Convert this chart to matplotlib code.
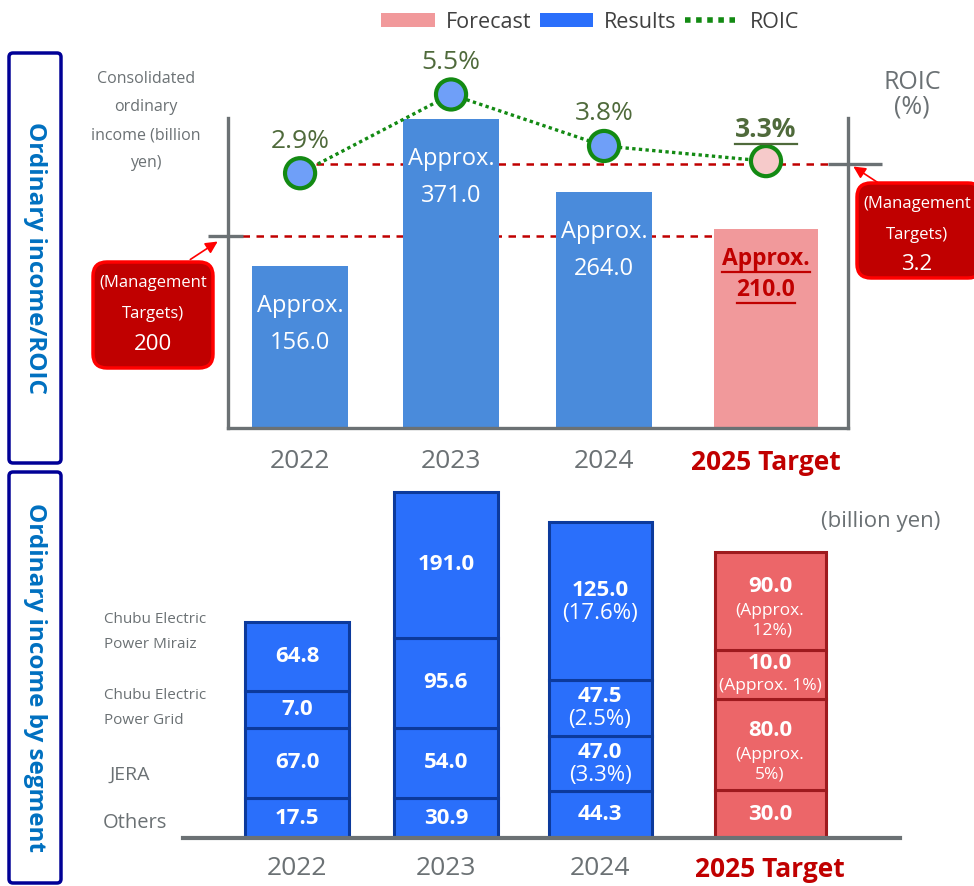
import matplotlib

matplotlib.use("Agg")
import matplotlib.pyplot as plt
import numpy as np
from matplotlib.lines import Line2D
from matplotlib.patches import FancyBboxPatch, Patch
from matplotlib.transforms import blended_transform_factory

plt.rcParams["font.family"] = ["Open Sans", "DejaVu Sans"]

# ---- data -------------------------------------------------------------
years = ["2022", "2023", "2024", "2025 Target"]
income = [156.0, 371.0, 264.0, 210.0]          # consolidated ordinary income (billion yen)
roic = [2.9, 5.5, 3.8, 3.3]                    # ROIC (%)
income_target = 200
roic_target = 3.2

seg_others = [17.5, 30.9, 44.3, 30.0]
seg_jera = [67.0, 54.0, 47.0, 80.0]
seg_grid = [7.0, 95.6, 47.5, 10.0]
seg_miraiz = [64.8, 191.0, 125.0, 90.0]
share_others = [None, None, None, None]
share_jera = [None, None, "(3.3%)", "(Approx.\n5%)"]
share_grid = [None, None, "(2.5%)", "(Approx. 1%)"]
share_miraiz = [None, None, "(17.6%)", "(Approx.\n 12%)"]

# the segment boxes in the original slide are schematic (not to scale):
# drawn box heights, in pixels, kept apart from the values
box_others = [40, 40, 47, 48]
box_jera = [70, 70, 55, 91]
box_grid = [37, 90, 56, 49]
box_miraiz = [69, 146, 158, 98]

# column positions (the target column sits a little further right on the slide)
pos_top = [0, 0.974, 1.961, 3.006]
pos_bottom = [0, 0.961, 1.955, 3.052]

# ---- styles -----------------------------------------------------------
GRAY = "#6b7174"
DARKRED = "#c00000"
BAR_BLUE = "#4a8bdb"
BAR_PINK = "#f1999b"
SEG_BLUE = "#2a6ffb"
SEG_BLUE_EDGE = "#0c3a9c"
SEG_RED = "#ec6669"
SEG_RED_EDGE = "#9e1a1e"
GREEN = "#138a13"
ROIC_TXT = "#4f6a3b"

W, H = 974, 886
fig = plt.figure(figsize=(W / 100, H / 100), dpi=100)


def px_axes(x0, y0, x1, y1):
    a = fig.add_axes([x0 / W, 1 - y1 / H, (x1 - x0) / W, (y1 - y0) / H])
    a.patch.set_alpha(0)
    return a


def underline(text, color, lw=1.6, gap=1):
    fig.canvas.draw()
    bb = text.get_window_extent()
    (fx0, fy), (fx1, _) = fig.transFigure.inverted().transform([[bb.x0, bb.y0 - gap], [bb.x1, bb.y0]])
    fig.add_artist(Line2D([fx0, fx1], [fy, fy], color=color, lw=lw))


# overlay in pixel coordinates for frames, notes and call-outs
ov = px_axes(0, 0, W, H)
ov.set_xlim(0, W)
ov.set_ylim(H, 0)
ov.axis("off")

for (y0, y1), label, fs in [((53, 463), "Ordinary income/ROIC", 17.5),
                            ((472, 883), "Ordinary income by segment", 17.5)]:
    ov.add_patch(FancyBboxPatch((9, y0), 52, y1 - y0, boxstyle="round,pad=0,rounding_size=4",
                                fc="white", ec="#000096", lw=2.5))
    ov.text(35, (y0 + y1) / 2, label, rotation=-90, ha="center", va="center",
            fontsize=fs, fontweight="bold", color="#0070c0")

ov.text(146, 121, "Consolidated\nordinary\nincome (billion\nyen)", ha="center", va="center",
        fontsize=11.5, color=GRAY, linespacing=2.0)
ov.text(912, 95, "ROIC\n(%)", ha="center", va="center", fontsize=18, color=GRAY, linespacing=0.95)
ov.text(881, 521, "(billion yen)", ha="center", va="center", fontsize=16, color=GRAY)

# management target call-outs
for (bx0, by0, bw, bh), txt, tip, tail in [
    ((93, 262, 120, 106), f"{income_target}", (220, 240), (188, 261)),
    ((857, 183, 125, 95), f"{roic_target}", (851, 165), (880, 184)),
]:
    ov.add_patch(FancyBboxPatch((bx0, by0), bw, bh, boxstyle="round,pad=0,rounding_size=14",
                                fc=DARKRED, ec="#ff0000", lw=2.5))
    cx = bx0 + 60
    ov.text(cx, by0 + 21, "(Management", ha="center", va="center", fontsize=12, color="white")
    ov.text(cx, by0 + 52, "Targets)", ha="center", va="center", fontsize=12, color="white")
    ov.text(cx, by0 + 82, txt, ha="center", va="center", fontsize=16, color="white")
    ov.annotate("", xy=tip, xytext=tail,
                arrowprops=dict(arrowstyle="-|>", color="#ff0000", lw=1.2, mutation_scale=18))

# segment names on the left of the lower chart
ov.text(104, 632, "Chubu Electric\nPower Miraiz", ha="left", va="center", fontsize=11,
        color=GRAY, linespacing=1.95)
ov.text(104, 708, "Chubu Electric\nPower Grid", ha="left", va="center", fontsize=11,
        color=GRAY, linespacing=1.95)
ov.text(110, 775, "JERA", ha="left", va="center", fontsize=14, color=GRAY)
ov.text(103, 823, "Others", ha="left", va="center", fontsize=14.5, color=GRAY)

# ---- upper chart: ordinary income bars + ROIC line ---------------------
ax = px_axes(228, 118, 848, 428)
x = np.array(pos_top)
Y0 = -80
ax.set_xlim(-0.465, 3.535)
ax.set_ylim(Y0, 372.6)
ax.bar(x, [v - Y0 for v in income], bottom=Y0, width=[0.62, 0.62, 0.62, 0.67],
       color=[BAR_BLUE] * 3 + [BAR_PINK], zorder=2)
for side in ["left", "right", "bottom"]:
    ax.spines[side].set_color(GRAY)
    ax.spines[side].set_linewidth(2.4)
ax.spines["top"].set_visible(False)
ax.set_yticks([])
ax.set_xticks(x, years)
ax.tick_params(axis="x", length=0, pad=15, labelsize=19, labelcolor=GRAY)
ax.get_xticklabels()[-1].set_color(DARKRED)
ax.get_xticklabels()[-1].set_fontweight("bold")

bar_texts = []
for xi, v in zip(x[:-1], income[:-1]):
    ax.annotate("Approx.", (xi, v), xytext=(0, -40), textcoords="offset pixels",
                ha="center", va="center", fontsize=17, color="white")
    ax.annotate(f"{v:.1f}", (xi, v), xytext=(0, -77), textcoords="offset pixels",
                ha="center", va="center", fontsize=17, color="white")
for dy, s in [(-30, "Approx."), (-61, f"{income[-1]:.1f}")]:
    t = ax.annotate(s, (x[-1], income[-1]), xytext=(0, dy), textcoords="offset pixels",
                    ha="center", va="center", fontsize=16.5, fontweight="bold", color=DARKRED)
    bar_texts.append(t)

dash = (0, (3, 2.6))
ax.axhline(income_target, xmin=0, xmax=0.8, color=DARKRED, ls=dash, lw=1.8, zorder=1.5)
ax.plot([-0.032, 0.024], [income_target] * 2, transform=ax.get_yaxis_transform(),
        color=GRAY, lw=2.4, clip_on=False, solid_capstyle="butt")

ax2 = ax.twinx()
ax2.set_ylim(-5.508, 4.723)
ax2.axis("off")
tr = blended_transform_factory(ax.transAxes, ax2.transData)
ax.plot([0.097, 1.0], [roic_target] * 2, transform=tr, color=DARKRED, ls=dash, lw=1.8, zorder=1.5)
ax.plot([0.968, 1.055], [roic_target] * 2, transform=tr, color=GRAY, lw=2.4, clip_on=False,
        solid_capstyle="butt", zorder=3)

ax2.plot(x, roic, color=GREEN, ls=(0, (1, 1)), lw=2.4, clip_on=False, zorder=3)
ax2.scatter(x, roic, s=470, c=["#6f9ff8"] * 3 + ["#f6caca"], edgecolors=GREEN, linewidths=3,
            clip_on=False, zorder=4)
roic_texts = []
for i, (xi, r) in enumerate(zip(x, roic)):
    t = ax2.annotate(f"{r}%", (xi, r), xytext=(0, 32), textcoords="offset pixels",
                     ha="center", va="center", fontsize=19, color=ROIC_TXT,
                     fontweight="bold" if i == len(x) - 1 else "normal", annotation_clip=False)
    roic_texts.append(t)

# ---- lower chart: ordinary income by segment ---------------------------
bx = px_axes(183, 480, 900, 838)
xb = np.array(pos_bottom)
bx.set_xlim(-0.7355, 3.89)
bx.set_ylim(0, 358)
for side in ["left", "right", "top"]:
    bx.spines[side].set_visible(False)
bx.spines["bottom"].set_color(GRAY)
bx.spines["bottom"].set_linewidth(3)
bx.spines["bottom"].set_zorder(4)
bx.set_yticks([])
bx.set_xticks(xb, years)
bx.tick_params(axis="x", length=0, pad=13, labelsize=19, labelcolor=GRAY)
bx.get_xticklabels()[-1].set_color(DARKRED)
bx.get_xticklabels()[-1].set_fontweight("bold")

fills = [SEG_BLUE] * 3 + [SEG_RED]
edges = [SEG_BLUE_EDGE] * 3 + [SEG_RED_EDGE]
widths = [0.665, 0.665, 0.665, 0.716]
bottom = np.zeros(len(years))
for vals, shares, heights in [(seg_others, share_others, box_others),
                              (seg_jera, share_jera, box_jera),
                              (seg_grid, share_grid, box_grid),
                              (seg_miraiz, share_miraiz, box_miraiz)]:
    bx.bar(xb, heights, bottom=bottom, width=widths, color=fills, edgecolor=edges,
           linewidth=2.2, zorder=2)
    for i, (v, s, h) in enumerate(zip(vals, shares, heights)):
        cy = bottom[i] + h / 2
        small = i == len(years) - 1
        if s is None:
            bx.text(xb[i], cy, f"{v:.1f}", ha="center", va="center", fontsize=16,
                    fontweight="bold", color="white", zorder=3)
        elif "\n" in s:
            bx.text(xb[i], cy + 14, f"{v:.1f}", ha="center", va="center", fontsize=16,
                    fontweight="bold", color="white", zorder=3)
            bx.text(xb[i], cy - 20, s, ha="center", va="center", fontsize=12.5,
                    color="white", linespacing=1.3, zorder=3)
        else:
            bx.text(xb[i], cy + 11, f"{v:.1f}", ha="center", va="center", fontsize=16,
                    fontweight="bold", color="white", zorder=3)
            bx.text(xb[i], cy - 12, s, ha="center", va="center",
                    fontsize=12.5 if small else 16, color="white", zorder=3)
    bottom += heights

# ---- legend ------------------------------------------------------------
handles = [Patch(facecolor=BAR_PINK), Patch(facecolor=SEG_BLUE),
           Line2D([], [], color=GREEN, ls=(0, (1, 1)), lw=4)]
fig.legend(handles, ["Forecast", "Results", "ROIC"], loc="center", bbox_to_anchor=(590 / W, 1 - 22 / H),
           ncol=3, frameon=False, fontsize=15.5, handlelength=2.5, handleheight=0.65,
           handletextpad=0.5, columnspacing=0.4, labelcolor="#404040")

for t in bar_texts:
    underline(t, DARKRED, lw=1.6)
underline(roic_texts[-1], ROIC_TXT, lw=1.6)

fig.savefig("out.png", dpi=100)
